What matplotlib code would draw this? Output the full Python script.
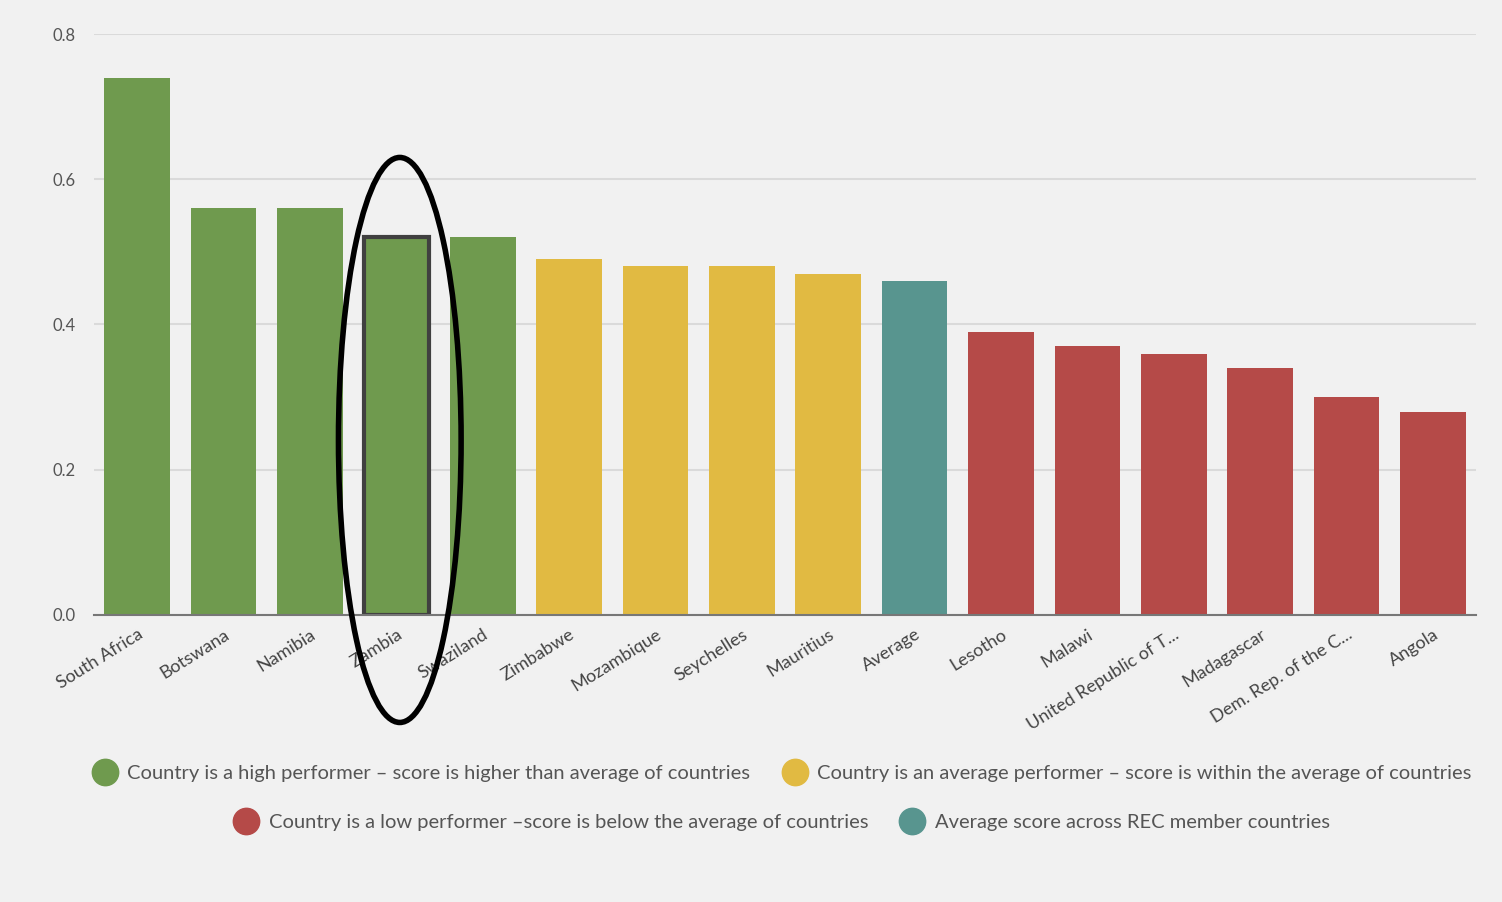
import matplotlib
matplotlib.use("Agg")
import matplotlib.pyplot as plt
from matplotlib.patches import Ellipse
from matplotlib.lines import Line2D

countries = ["South Africa", "Botswana", "Namibia", "Zambia", "Swaziland",
             "Zimbabwe", "Mozambique", "Seychelles", "Mauritius", "Average",
             "Lesotho", "Malawi", "United Republic of T...", "Madagascar",
             "Dem. Rep. of the C...", "Angola"]
scores = [0.74, 0.56, 0.56, 0.52, 0.52, 0.49, 0.48, 0.48, 0.47, 0.46,
          0.39, 0.37, 0.36, 0.34, 0.30, 0.28]
groups = ["high"] * 5 + ["avg"] * 4 + ["mean"] + ["low"] * 6
highlight = "Zambia"
y_ticks = [0.0, 0.2, 0.4, 0.6, 0.8]

palette = {"high": "#6f9a4e", "avg": "#e1ba42", "mean": "#58958f", "low": "#b54a48"}
legend_text = {
    "high": "Country is a high performer \u2013 score is higher than average of countries",
    "avg": "Country is an average performer \u2013 score is within the average of countries",
    "low": "Country is a low performer \u2013score is below the average of countries",
    "mean": "Average score across REC member countries",
}

bg = "#f1f1f1"
plt.rcParams["font.family"] = ["Lato", "DejaVu Sans"]

fig = plt.figure(figsize=(15.02, 9.02), dpi=100, facecolor=bg)
ax = fig.add_axes([0.0626, 0.3182, 0.9201, 0.6441], facecolor=bg)

x = list(range(len(countries)))
bars = ax.bar(x, scores, width=0.76, color=[palette[g] for g in groups], zorder=2)
for b, name in zip(bars, countries):
    if name == highlight:
        b.set_edgecolor("#404040")
        b.set_linewidth(3)

ax.set_xlim(-0.5, len(countries) - 0.5)
ax.set_ylim(0, 0.8)
ax.set_yticks(y_ticks)
ax.set_yticklabels([f"{v:.1f}" for v in y_ticks], color="#555555", fontsize=12)
ax.yaxis.grid(True, color="#dadada", linewidth=1.5, zorder=0)
ax.set_axisbelow(True)
ax.tick_params(axis="both", length=0)
ax.tick_params(axis="y", pad=13)
for s in ["top", "right", "left"]:
    ax.spines[s].set_visible(False)
ax.spines["bottom"].set_color("#777777")
ax.spines["bottom"].set_linewidth(1.5)

ax.set_xticks(x)
ax.set_xticklabels(countries, rotation=32, ha="right", rotation_mode="anchor",
                   color="#444444", fontsize=13)
ax.tick_params(axis="x", pad=8)

# ring drawn around the highlighted country
zi = countries.index(highlight)
ax.add_patch(Ellipse((zi + 0.04, 0.241), width=1.42, height=0.778, fill=False,
                     edgecolor="black", linewidth=4, clip_on=False, zorder=5))

def handle(key):
    return Line2D([], [], marker="o", linestyle="none", markersize=19,
                  markerfacecolor=palette[key], markeredgecolor=palette[key])

for keys, ypix in [(["high", "avg"], 773), (["low", "mean"], 822)]:
    fig.legend([handle(k) for k in keys], [legend_text[k] for k in keys],
               loc="center", bbox_to_anchor=(782 / 1502, 1 - ypix / 902),
               ncol=2, frameon=False, fontsize=14.5, labelcolor="#555555",
               handletextpad=0.5, columnspacing=1.6, handlelength=1.2)

fig.savefig("out.png", dpi=100, facecolor=bg)
